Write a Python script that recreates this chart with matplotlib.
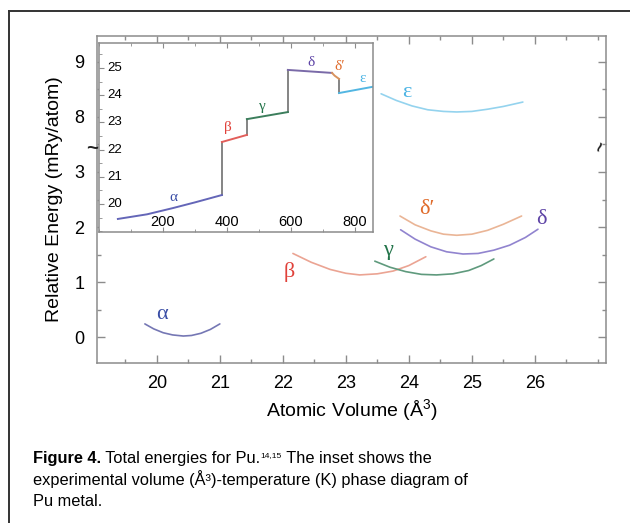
import matplotlib
matplotlib.use("Agg")
import matplotlib.pyplot as plt
from matplotlib.lines import Line2D
from matplotlib.ticker import MultipleLocator, FixedLocator
import matplotlib.transforms as mtransforms

plt.rcParams['font.family'] = ['Liberation Sans', 'DejaVu Sans']
plt.rcParams['mathtext.fontset'] = 'custom'
plt.rcParams['mathtext.rm'] = 'Liberation Sans'
plt.rcParams['mathtext.it'] = 'Liberation Sans:italic'
plt.rcParams['mathtext.bf'] = 'Liberation Sans:bold'

# ---------------- data: main panel (atomic volume in A^3, energy in mRy/atom)
alpha_V = [19.81, 19.95, 20.10, 20.25, 20.42, 20.55, 20.70, 20.85, 21.00]
alpha_E = [0.24, 0.15, 0.08, 0.04, 0.02, 0.03, 0.07, 0.14, 0.24]
beta_V = [22.16, 22.45, 22.75, 23.00, 23.22, 23.50, 23.75, 24.00, 24.27]
beta_E = [1.52, 1.36, 1.23, 1.16, 1.13, 1.15, 1.20, 1.30, 1.46]
gamma_V = [23.46, 23.70, 23.95, 24.20, 24.44, 24.70, 24.95, 25.15, 25.35]
gamma_E = [1.38, 1.27, 1.19, 1.14, 1.13, 1.15, 1.21, 1.30, 1.42]
delta_V = [23.87, 24.10, 24.35, 24.60, 24.86, 25.10, 25.35, 25.60, 25.85, 26.05]
delta_E = [1.95, 1.78, 1.64, 1.55, 1.51, 1.52, 1.58, 1.67, 1.81, 1.96]
deltap_V = [23.86, 24.10, 24.35, 24.55, 24.76, 25.00, 25.25, 25.50, 25.79]
deltap_E = [2.20, 2.04, 1.93, 1.87, 1.85, 1.87, 1.94, 2.05, 2.20]
eps_V = [23.56, 23.80, 24.05, 24.30, 24.55, 24.76, 25.00, 25.25, 25.50, 25.81]
eps_E = [8.42, 8.30, 8.20, 8.13, 8.10, 8.09, 8.10, 8.14, 8.19, 8.27]

x_ticks = [20, 21, 22, 23, 24, 25, 26]
y_tick_values = [0, 1, 2, 3, 8, 9]
BREAK_GAP = 4.0          # energies above the break are shifted down by this amount

# ---------------- data: inset (temperature K, volume A^3)
in_alpha_T = [59, 150, 231, 300, 384]
in_alpha_V = [19.45, 19.62, 19.85, 20.06, 20.33]
in_beta_T = [384, 462]
in_beta_V = [22.28, 22.54]
in_gamma_T = [462, 590]
in_gamma_V = [23.12, 23.38]
in_delta_T = [590, 728]
in_delta_V = [24.93, 24.82]
in_deltap_T = [728, 736, 750]
in_deltap_V = [24.82, 24.72, 24.60]
in_eps_T = [750, 860]
in_eps_V = [24.08, 24.32]
inset_x_ticks = [200, 400, 600, 800]
inset_y_ticks = [20, 21, 22, 23, 24, 25]

# ---------------- colours
lab_col = {'a': '#3a4ea6', 'b': '#e0413a', 'g': '#23744a', 'd': '#5e44a6',
           'dp': '#e06c2c', 'e': '#4cb4e4'}
curve_col = {'a': '#7577b4', 'b': '#eba493', 'g': '#5f9a7d', 'd': '#9184cf',
             'dp': '#eab596', 'e': '#94d3ee'}
in_col = {'a': '#6466b8', 'b': '#e25e5a', 'g': '#3c7e5c', 'd': '#7a6aa8',
          'dp': '#d9935e', 'e': '#52b6e2'}
spine_col = '#8c8c8c'


def disp(E):
    return [e - BREAK_GAP if e > 3.5 else e for e in E]


fig = plt.figure(figsize=(6.30, 5.23), dpi=100)

# figure frame (open to the right / bottom as in the page crop)
fig.add_artist(Line2D([9 / 630, 9 / 630], [0, 1 - 11 / 523], transform=fig.transFigure,
                      color='#333333', lw=1.4))
fig.add_artist(Line2D([9 / 630, 1], [1 - 11 / 523, 1 - 11 / 523], transform=fig.transFigure,
                      color='#333333', lw=1.4))

# ---------------- main axes
ax = fig.add_axes([97 / 630, 1 - 363 / 523, (606 - 97) / 630, (363 - 36) / 523])
ax.set_xlim(19.05, 27.13)
ax.set_ylim(-0.47, 5.47)

kw = dict(lw=1.2, solid_capstyle='round')
ax.plot(alpha_V, disp(alpha_E), color=curve_col['a'], **kw)
ax.plot(beta_V, disp(beta_E), color=curve_col['b'], **kw)
ax.plot(gamma_V, disp(gamma_E), color=curve_col['g'], **kw)
ax.plot(delta_V, disp(delta_E), color=curve_col['d'], **kw)
ax.plot(deltap_V, disp(deltap_E), color=curve_col['dp'], **kw)
ax.plot(eps_V, disp(eps_E), color=curve_col['e'], **kw)

gk = dict(family=['Liberation Serif', 'DejaVu Serif'], fontsize=16, ha='center', va='center')
ax.text(20.08, 0.42, 'α', color=lab_col['a'], **gk)
ax.text(22.10, 1.18, 'β', color=lab_col['b'], **gk)
ax.text(23.67, 1.58, 'γ', color=lab_col['g'], **gk)
ax.text(26.10, 2.13, 'δ', color=lab_col['d'], **gk)
ax.text(24.29, 2.31, 'δ′', color=lab_col['dp'], **gk)
ax.text(23.97, disp([8.45])[0], 'ε', color=lab_col['e'], **gk)

ax.xaxis.set_major_locator(FixedLocator(x_ticks))
ax.xaxis.set_minor_locator(MultipleLocator(0.5))
ytick_pos = disp(y_tick_values)
ax.yaxis.set_major_locator(FixedLocator(ytick_pos))
ax.yaxis.set_minor_locator(MultipleLocator(0.5))
ax.set_yticklabels([str(v) for v in y_tick_values])
ax.set_xticklabels([str(v) for v in x_ticks])
ax.tick_params(which='both', direction='in', top=True, right=True, color=spine_col)
ax.tick_params(which='major', length=6, width=1, labelsize=13, pad=9)
ax.tick_params(which='minor', length=3, width=1)
for s in ax.spines.values():
    s.set_color(spine_col)
    s.set_linewidth(1.1)
ax.set_xlabel('Atomic Volume (Å$^{3}$)', fontsize=14, labelpad=3)
ax.set_ylabel('Relative Energy (mRy/atom)', fontsize=14, labelpad=8)

# break marks on both spines
bt = mtransforms.blended_transform_factory(ax.transAxes, ax.transData)
ax.text(-0.01, 3.42, '~', transform=bt, fontsize=15, fontweight='bold', ha='center',
        va='center', clip_on=False, color='#222222')
ax.text(0.991, 3.45, '~', transform=bt, fontsize=13, fontweight='bold', ha='center',
        va='center', rotation=70, clip_on=False, color='#222222')

# ---------------- inset
ins = fig.add_axes([99 / 630, 1 - 232 / 523, (373 - 99) / 630, (232 - 43) / 523])
ins.set_xlim(0, 856)
ins.set_ylim(18.97, 25.92)
ik = dict(lw=1.4)
ins.plot([in_alpha_T[-1], in_beta_T[0]], [in_alpha_V[-1], in_beta_V[0]], color='#707070', lw=1.2)
ins.plot([in_beta_T[-1], in_gamma_T[0]], [in_beta_V[-1], in_gamma_V[0]], color='#707070', lw=1.2)
ins.plot([in_gamma_T[-1], in_delta_T[0]], [in_gamma_V[-1], in_delta_V[0]], color='#707070', lw=1.2)
ins.plot([in_deltap_T[-1], in_eps_T[0]], [in_deltap_V[-1], in_eps_V[0]], color='#707070', lw=1.2)
ins.plot(in_alpha_T, in_alpha_V, color=in_col['a'], **ik)
ins.plot(in_beta_T, in_beta_V, color=in_col['b'], **ik)
ins.plot(in_gamma_T, in_gamma_V, color=in_col['g'], **ik)
ins.plot(in_delta_T, in_delta_V, color=in_col['d'], **ik)
ins.plot(in_deltap_T, in_deltap_V, color=in_col['dp'], **ik)
ins.plot(in_eps_T, in_eps_V, color=in_col['e'], **ik)

sk = dict(family=['Liberation Serif', 'DejaVu Serif'], fontsize=11, ha='center', va='center')
ins.text(231, 20.25, 'α', color=lab_col['a'], **sk)
ins.text(403, 22.80, 'β', color=lab_col['b'], **sk)
ins.text(509, 23.60, 'γ', color=lab_col['g'], **sk)
ins.text(662, 25.20, 'δ', color=lab_col['d'], **sk)
ins.text(753, 25.04, 'δ′', color=lab_col['dp'], **sk)
ins.text(825, 24.60, 'ε', color=lab_col['e'], **sk)

ins.xaxis.set_major_locator(FixedLocator(inset_x_ticks))
ins.xaxis.set_minor_locator(MultipleLocator(100))
ins.yaxis.set_major_locator(FixedLocator(inset_y_ticks))
ins.yaxis.set_minor_locator(MultipleLocator(0.5))
ins.tick_params(which='both', direction='in', top=True, right=False, color=spine_col,
                labelleft=False, labelbottom=False)
ins.tick_params(which='major', length=3.5)
ins.tick_params(which='minor', length=2)
for s in ins.spines.values():
    s.set_color(spine_col)
    s.set_linewidth(1.1)
ty = mtransforms.blended_transform_factory(ins.transAxes, ins.transData)
for v in inset_y_ticks:
    ins.text(0.03, v, str(v), transform=ty, ha='left', va='center', fontsize=9.5)
tx = mtransforms.blended_transform_factory(ins.transData, ins.transAxes)
for v in inset_x_ticks:
    ins.text(v, 0.015, str(v), transform=tx, ha='center', va='bottom', fontsize=10.5)

# ---------------- caption
fig.canvas.draw()
r = fig.canvas.get_renderer()
cap_size = 11.8


def put(x_px, y_px, s, **kw):
    t = fig.text(x_px / 630, 1 - y_px / 523, s, va='baseline', ha='left', **kw)
    bb = t.get_window_extent(renderer=r)
    return x_px + bb.width


x = 33
x = put(x, 463, 'Figure 4.', fontsize=cap_size, fontweight='bold')
x = put(x, 463, ' Total energies for Pu.', fontsize=cap_size)
x = put(x, 457, '14,15', fontsize=6)
x = put(x, 463, ' The inset shows the', fontsize=cap_size)
put(33, 485, 'experimental volume (Å³)-temperature (K) phase diagram of', fontsize=cap_size)
put(33, 506, 'Pu metal.', fontsize=cap_size)

fig.savefig('out.png', dpi=100)
